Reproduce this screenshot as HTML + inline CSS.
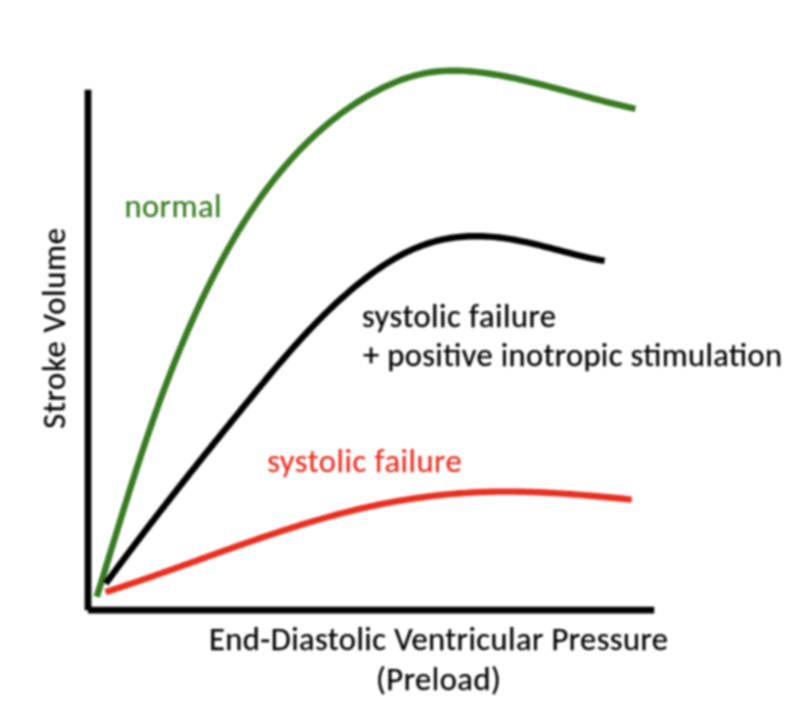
<!DOCTYPE html>
<html><head><meta charset="utf-8"><style>
html,body{margin:0;padding:0;background:#fff;}
body{width:802px;height:702px;overflow:hidden;}
svg{display:block;filter:blur(1px);}
text{font-family:Carlito,"Liberation Sans",sans-serif;font-size:32.5px;stroke-width:0.25px;}
</style></head><body>
<svg width="802" height="702" viewBox="0 0 802 702">
<rect width="802" height="702" fill="#fff"/>
<g fill="none" stroke-linecap="butt" stroke-linejoin="round">
<path d="M96.79,596.70 L98.08,592.52 L99.37,588.35 L100.66,584.18 L101.94,580.01 L103.23,575.84 L104.51,571.68 L105.78,567.52 L107.06,563.36 L108.33,559.20 L109.61,555.05 L110.88,550.90 L112.15,546.76 L113.43,542.61 L114.70,538.47 L115.97,534.34 L117.24,530.20 L118.52,526.07 L119.80,521.95 L121.07,517.82 L122.35,513.70 L123.64,509.58 L124.92,505.47 L126.21,501.36 L127.50,497.25 L128.80,493.14 L130.10,489.04 L131.40,484.94 L132.71,480.85 L134.03,476.75 L135.35,472.66 L136.67,468.58 L138.00,464.50 L139.34,460.42 L140.68,456.34 L142.03,452.27 L143.39,448.20 L144.76,444.14 L146.13,440.08 L147.51,436.02 L148.90,431.96 L150.30,427.91 L151.71,423.86 L153.12,419.82 L154.55,415.78 L155.99,411.74 L157.44,407.71 L158.89,403.68 L160.36,399.65 L161.84,395.63 L163.34,391.61 L164.84,387.60 L166.36,383.59 L167.89,379.58 L169.43,375.57 L170.98,371.57 L172.55,367.58 L174.13,363.58 L175.73,359.60 L177.34,355.61 L178.97,351.63 L180.61,347.65 L182.27,343.68 L183.94,339.71 L185.63,335.74 L187.33,331.78 L189.06,327.83 L190.80,323.87 L192.55,319.92 L194.33,315.98 L196.12,312.03 L197.93,308.10 L199.76,304.16 L201.61,300.23 L203.48,296.31 L205.36,292.39 L207.27,288.47 L209.20,284.57 L211.15,280.67 L213.12,276.77 L215.11,272.89 L217.12,269.01 L219.16,265.15 L221.21,261.30 L223.29,257.46 L225.40,253.63 L227.53,249.81 L229.68,246.01 L231.85,242.23 L234.05,238.46 L236.28,234.70 L238.53,230.97 L240.81,227.25 L243.11,223.55 L245.44,219.87 L247.80,216.21 L250.18,212.58 L252.60,208.96 L255.04,205.37 L257.51,201.80 L260.00,198.25 L262.53,194.73 L265.08,191.24 L267.67,187.77 L270.29,184.33 L272.93,180.92 L275.61,177.54 L278.32,174.19 L281.06,170.86 L283.83,167.57 L286.64,164.31 L289.47,161.09 L292.34,157.90 L295.25,154.74 L298.18,151.61 L301.16,148.53 L304.16,145.48 L307.20,142.47 L310.28,139.49 L313.39,136.56 L316.54,133.66 L319.73,130.81 L322.95,127.99 L326.21,125.22 L329.50,122.49 L332.84,119.81 L336.21,117.17 L339.62,114.57 L343.07,112.02 L346.56,109.52 L350.09,107.07 L353.66,104.66 L357.27,102.30 L360.91,100.00 L364.61,97.74 L368.34,95.54 L372.10,93.41 L375.91,91.34 L379.75,89.34 L383.63,87.41 L387.54,85.57 L391.49,83.81 L395.47,82.14 L399.48,80.57 L403.52,79.10 L407.58,77.73 L411.68,76.47 L415.80,75.32 L419.95,74.30 L424.12,73.40 L428.32,72.63 L432.54,71.99 L436.78,71.48 L441.04,71.10 L445.32,70.84 L449.61,70.69 L453.91,70.65 L458.22,70.72 L462.54,70.88 L466.86,71.13 L471.19,71.47 L475.52,71.88 L479.85,72.37 L484.18,72.93 L488.50,73.54 L492.81,74.22 L497.11,74.94 L501.40,75.71 L505.68,76.51 L509.95,77.36 L514.20,78.23 L518.44,79.14 L522.67,80.08 L526.90,81.05 L531.11,82.05 L535.32,83.06 L539.51,84.10 L543.70,85.16 L547.89,86.24 L552.06,87.33 L556.24,88.43 L560.40,89.54 L564.57,90.67 L568.73,91.79 L572.89,92.92 L577.04,94.06 L581.20,95.19 L585.35,96.32 L589.51,97.44 L593.66,98.56 L597.82,99.66 L601.98,100.76 L606.14,101.84 L610.31,102.91 L614.48,103.95 L618.65,104.98 L622.83,105.98 L627.02,106.96 L631.21,107.91 L635.41,108.83" stroke="#387b22" stroke-width="6.4"/>
<path d="M105.77,583.57 L107.71,580.91 L109.65,578.26 L111.60,575.61 L113.55,572.96 L115.51,570.31 L117.47,567.66 L119.43,565.02 L121.39,562.38 L123.35,559.75 L125.32,557.11 L127.29,554.48 L129.27,551.85 L131.24,549.22 L133.22,546.59 L135.20,543.97 L137.19,541.35 L139.17,538.73 L141.16,536.11 L143.15,533.50 L145.15,530.88 L147.14,528.27 L149.14,525.66 L151.14,523.05 L153.15,520.45 L155.15,517.85 L157.16,515.25 L159.17,512.65 L161.18,510.05 L163.20,507.45 L165.21,504.86 L167.23,502.27 L169.25,499.68 L171.27,497.09 L173.30,494.50 L175.32,491.91 L177.35,489.33 L179.38,486.75 L181.42,484.17 L183.45,481.59 L185.49,479.01 L187.52,476.43 L189.56,473.86 L191.60,471.29 L193.65,468.71 L195.69,466.14 L197.74,463.57 L199.79,461.01 L201.84,458.44 L203.89,455.87 L205.94,453.31 L207.99,450.75 L210.05,448.19 L212.11,445.63 L214.16,443.07 L216.22,440.51 L218.28,437.95 L220.35,435.39 L222.41,432.84 L224.47,430.28 L226.54,427.73 L228.61,425.18 L230.68,422.63 L232.75,420.07 L234.82,417.52 L236.89,414.98 L238.96,412.43 L241.03,409.88 L243.11,407.33 L245.19,404.79 L247.26,402.24 L249.34,399.70 L251.42,397.15 L253.50,394.61 L255.58,392.07 L257.66,389.53 L259.75,386.99 L261.84,384.45 L263.93,381.92 L266.02,379.39 L268.12,376.86 L270.23,374.34 L272.34,371.82 L274.45,369.31 L276.57,366.80 L278.70,364.29 L280.83,361.80 L282.97,359.30 L285.11,356.82 L287.27,354.34 L289.43,351.87 L291.60,349.40 L293.78,346.94 L295.96,344.50 L298.16,342.05 L300.37,339.62 L302.59,337.20 L304.81,334.79 L307.05,332.38 L309.30,329.99 L311.56,327.61 L313.84,325.23 L316.13,322.87 L318.43,320.52 L320.74,318.19 L323.07,315.86 L325.41,313.55 L327.76,311.25 L330.13,308.97 L332.52,306.69 L334.92,304.44 L337.34,302.19 L339.77,299.96 L342.22,297.75 L344.69,295.55 L347.18,293.37 L349.68,291.20 L352.20,289.05 L354.74,286.92 L357.30,284.81 L359.88,282.72 L362.48,280.65 L365.10,278.61 L367.73,276.59 L370.39,274.61 L373.06,272.65 L375.75,270.73 L378.46,268.84 L381.20,266.98 L383.95,265.17 L386.72,263.39 L389.51,261.65 L392.32,259.96 L395.15,258.31 L398.00,256.70 L400.87,255.15 L403.76,253.64 L406.67,252.19 L409.60,250.79 L412.55,249.45 L415.52,248.16 L418.52,246.93 L421.53,245.76 L424.56,244.65 L427.62,243.61 L430.69,242.63 L433.79,241.73 L436.91,240.89 L440.05,240.12 L443.20,239.42 L446.38,238.80 L449.58,238.24 L452.80,237.76 L456.03,237.34 L459.27,236.99 L462.53,236.70 L465.80,236.48 L469.07,236.32 L472.36,236.23 L475.65,236.19 L478.95,236.21 L482.26,236.30 L485.56,236.43 L488.87,236.63 L492.18,236.88 L495.48,237.18 L498.78,237.53 L502.08,237.93 L505.38,238.39 L508.67,238.88 L511.95,239.42 L515.23,240.00 L518.50,240.62 L521.77,241.27 L525.04,241.95 L528.29,242.67 L531.55,243.40 L534.79,244.16 L538.03,244.94 L541.27,245.74 L544.50,246.55 L547.72,247.37 L550.94,248.20 L554.15,249.04 L557.36,249.88 L560.56,250.72 L563.75,251.56 L566.93,252.40 L570.11,253.22 L573.29,254.03 L576.45,254.83 L579.61,255.62 L582.76,256.38 L585.91,257.12 L589.04,257.84 L592.18,258.53 L595.30,259.19 L598.41,259.81 L601.52,260.40 L604.62,260.95" stroke="#000" stroke-width="6.4"/>
<path d="M105.54,592.07 L108.11,591.25 L110.68,590.43 L113.25,589.61 L115.82,588.77 L118.38,587.94 L120.95,587.10 L123.52,586.25 L126.08,585.40 L128.65,584.54 L131.21,583.68 L133.78,582.81 L136.34,581.94 L138.91,581.07 L141.47,580.19 L144.03,579.31 L146.60,578.43 L149.16,577.54 L151.72,576.65 L154.28,575.75 L156.85,574.85 L159.41,573.95 L161.97,573.05 L164.53,572.14 L167.10,571.24 L169.66,570.33 L172.22,569.42 L174.78,568.50 L177.35,567.59 L179.91,566.67 L182.47,565.75 L185.04,564.83 L187.60,563.91 L190.16,562.99 L192.73,562.07 L195.29,561.15 L197.86,560.22 L200.42,559.30 L202.99,558.38 L205.55,557.46 L208.12,556.53 L210.68,555.61 L213.25,554.69 L215.82,553.77 L218.39,552.85 L220.96,551.93 L223.53,551.01 L226.10,550.10 L228.67,549.18 L231.24,548.27 L233.81,547.36 L236.39,546.45 L238.96,545.55 L241.53,544.64 L244.11,543.74 L246.69,542.84 L249.26,541.95 L251.84,541.06 L254.42,540.17 L257.00,539.28 L259.58,538.40 L262.17,537.52 L264.75,536.65 L267.33,535.78 L269.92,534.91 L272.51,534.05 L275.10,533.19 L277.69,532.34 L280.28,531.49 L282.87,530.65 L285.46,529.81 L288.06,528.98 L290.65,528.15 L293.25,527.33 L295.85,526.51 L298.45,525.70 L301.05,524.90 L303.65,524.10 L306.26,523.31 L308.87,522.53 L311.47,521.75 L314.08,520.98 L316.69,520.22 L319.31,519.46 L321.92,518.71 L324.54,517.97 L327.16,517.24 L329.78,516.51 L332.40,515.80 L335.02,515.09 L337.65,514.39 L340.28,513.69 L342.91,513.01 L345.54,512.34 L348.17,511.67 L350.81,511.02 L353.44,510.37 L356.08,509.73 L358.73,509.10 L361.37,508.49 L364.02,507.88 L366.66,507.28 L369.32,506.70 L371.97,506.12 L374.62,505.55 L377.28,505.00 L379.94,504.45 L382.60,503.92 L385.26,503.40 L387.93,502.88 L390.60,502.38 L393.27,501.89 L395.94,501.41 L398.61,500.94 L401.29,500.49 L403.97,500.04 L406.65,499.60 L409.33,499.18 L412.01,498.76 L414.69,498.36 L417.38,497.97 L420.07,497.59 L422.76,497.22 L425.45,496.87 L428.14,496.52 L430.84,496.18 L433.53,495.86 L436.23,495.55 L438.93,495.25 L441.63,494.96 L444.33,494.68 L447.03,494.42 L449.74,494.16 L452.44,493.92 L455.15,493.69 L457.86,493.47 L460.56,493.27 L463.27,493.07 L465.98,492.89 L468.70,492.72 L471.41,492.56 L474.12,492.41 L476.84,492.28 L479.55,492.15 L482.27,492.04 L484.99,491.94 L487.71,491.86 L490.43,491.78 L493.15,491.72 L495.87,491.67 L498.59,491.63 L501.31,491.61 L504.03,491.59 L506.75,491.59 L509.48,491.59 L512.20,491.61 L514.92,491.64 L517.65,491.68 L520.37,491.73 L523.10,491.78 L525.82,491.85 L528.55,491.93 L531.27,492.01 L534.00,492.11 L536.72,492.21 L539.45,492.32 L542.17,492.45 L544.90,492.57 L547.62,492.71 L550.35,492.85 L553.07,493.01 L555.80,493.16 L558.52,493.33 L561.24,493.50 L563.97,493.68 L566.69,493.87 L569.41,494.06 L572.13,494.25 L574.85,494.46 L577.57,494.66 L580.29,494.88 L583.01,495.09 L585.72,495.32 L588.44,495.55 L591.15,495.78 L593.87,496.01 L596.58,496.25 L599.29,496.50 L602.00,496.74 L604.71,496.99 L607.42,497.25 L610.13,497.50 L612.84,497.76 L615.54,498.02 L618.24,498.28 L620.95,498.55 L623.65,498.81 L626.35,499.08 L629.04,499.35 L631.74,499.62" stroke="#e83022" stroke-width="6.4"/>
<line x1="88" y1="89.7" x2="88" y2="610.2" stroke="#000" stroke-width="6.8"/>
<line x1="88" y1="610.2" x2="654.2" y2="610.2" stroke="#000" stroke-width="6.8"/>
</g>
<text x="124.40" y="217.4" fill="#387b22" stroke="#387b22" textLength="97.05" lengthAdjust="spacing">normal</text>
<text x="362.00" y="327.3" fill="#000" stroke="#000" textLength="194.02" lengthAdjust="spacing">systolic failure</text>
<text x="363.00" y="365.8" fill="#000" stroke="#000" textLength="419.08" lengthAdjust="spacing">+ positive inotropic stimulation</text>
<text x="267.20" y="471.7" fill="#e83022" stroke="#e83022" textLength="194.52" lengthAdjust="spacing">systolic failure</text>
<text x="209.00" y="650.3" fill="#000" stroke="#000" textLength="458.95" lengthAdjust="spacing">End-Diastolic Ventricular Pressure</text>
<text x="376.00" y="690" fill="#000" stroke="#000" textLength="124.81" lengthAdjust="spacing">(Preload)</text>
<text transform="translate(64.9,328.4) rotate(-90)" fill="#000" stroke="#000" text-anchor="middle" textLength="200.6" lengthAdjust="spacing">Stroke Volume</text>
</svg>
</body></html>
